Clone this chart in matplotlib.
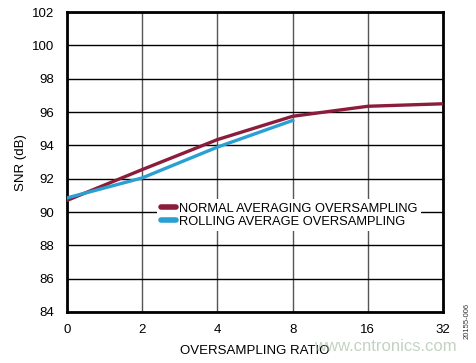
import matplotlib.pyplot as plt

plt.rcParams['font.family'] = ['Liberation Sans', 'DejaVu Sans']

ratios = ['0', '2', '4', '8', '16', '32']
normal_snr = [90.7, 92.55, 94.35, 95.75, 96.35, 96.5]
rolling_snr = [90.85, 92.05, 93.9, 95.5]

fig = plt.figure(figsize=(4.76, 3.63), dpi=100)
ax = fig.add_axes([0.1408, 0.1405, 0.79, 0.826])

x = list(range(len(ratios)))
ax.plot(x, normal_snr, color='#8c1c3c', lw=2.4, label='NORMAL AVERAGING OVERSAMPLING', zorder=3)
ax.plot(x[:len(rolling_snr)], rolling_snr, color='#2a9fd2', lw=2.4, label='ROLLING AVERAGE OVERSAMPLING', zorder=3)

ax.set_xlim(0, 5)
ax.set_ylim(84, 102)
ax.set_xticks(x)
ax.set_xticklabels(ratios)
ax.set_yticks(range(84, 103, 2))
ax.tick_params(length=0, labelsize=9.5)
ax.tick_params(axis='y', pad=9)
ax.tick_params(axis='x', pad=9)
ax.yaxis.grid(True, color='black', lw=1)
ax.xaxis.grid(True, color='#555555', lw=1)
for s in ax.spines.values():
    s.set_linewidth(2)

ax.set_ylabel('SNR (dB)', fontsize=9.5, labelpad=4)
ax.set_xlabel('OVERSAMPLING RATIO', fontsize=9.5, labelpad=6)

leg = ax.legend(loc='center', bbox_to_anchor=(0.59, 0.323), fontsize=9.3, frameon=True,
                handlelength=1.2, handletextpad=0.2, labelspacing=0.05, borderpad=0.3,
                fancybox=False)
leg.get_frame().set_edgecolor('none')
leg.get_frame().set_facecolor('white')
leg.get_frame().set_alpha(1)
leg.set_zorder(5)
for h in leg.get_lines():
    h.set_linewidth(4)
    h.set_solid_capstyle('round')

fig.text(0.982, 0.115, '20155-006', rotation=90, fontsize=5.5, ha='center', va='center', color='#333333')
fig.text(0.96, 0.045, 'www.cntronics.com', fontsize=12, color='#9cb59c', alpha=0.6, ha='right', va='center')

fig.savefig('out.png', dpi=100)
